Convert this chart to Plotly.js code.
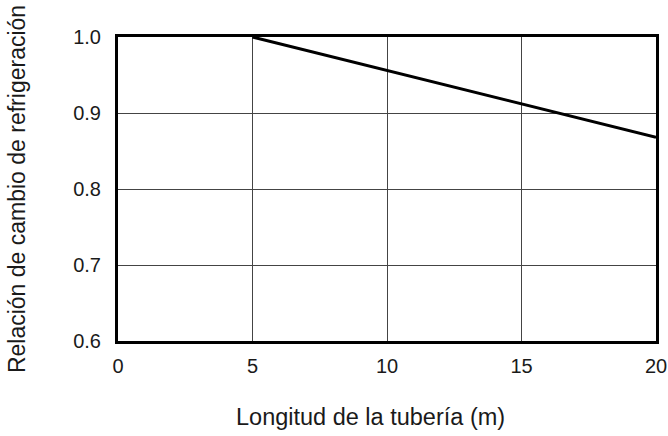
<!DOCTYPE html>
<html><head><meta charset="utf-8">
<script src="https://cdn.plot.ly/plotly-3.0.1.min.js"></script>
<style>body{margin:0;background:#fff}#c{width:668px;height:436px}</style>
</head><body><div id="c"></div>
<script>
const pipeLength = [5, 10, 15, 20];
const ratio = [1.0, 0.956, 0.912, 0.868];
const xTicks = [0, 5, 10, 15, 20];
const yTicks = [0.6, 0.7, 0.8, 0.9, 1.0];
const xTitle = 'Longitud de la tubería (m)';
const yTitle = 'Relación de cambio de refrigeración';

Plotly.newPlot('c', [{
  x: pipeLength, y: ratio, mode: 'lines', type: 'scatter',
  line: {color: '#000', width: 3}, hoverinfo: 'skip'
}], {
  width: 668, height: 436,
  margin: {l: 118, r: 12, t: 37, b: 95},
  paper_bgcolor: '#fff', plot_bgcolor: '#fff',
  font: {family: 'Liberation Sans, Arial, sans-serif', color: '#1a1a1a', size: 20},
  showlegend: false,
  xaxis: {
    range: [0, 20], tickvals: xTicks, ticktext: xTicks.map(String),
    showgrid: true, gridcolor: '#444', gridwidth: 1,
    showline: true, linecolor: '#000', linewidth: 3, mirror: true,
    zeroline: false, ticks: '', ticklabelstandoff: 5,
    tickfont: {size: 20, color: '#1a1a1a'}
  },
  yaxis: {
    range: [0.6, 1.0], tickvals: yTicks, ticktext: yTicks.map(v => v.toFixed(1)),
    showgrid: true, gridcolor: '#444', gridwidth: 1,
    showline: true, linecolor: '#000', linewidth: 3, mirror: true,
    zeroline: false, ticks: '', ticklabelstandoff: 10,
    tickfont: {size: 20, color: '#1a1a1a'},
    title: {text: yTitle, font: {size: 23, color: '#1a1a1a'}, standoff: 42}
  },
  annotations: [{
    text: xTitle, showarrow: false,
    xref: 'paper', yref: 'paper', x: 0.469, y: 0,
    xanchor: 'center', yanchor: 'middle', yshift: -76,
    font: {size: 23.5, color: '#1a1a1a'}
  }]
}, {staticPlot: true});
</script></body></html>
